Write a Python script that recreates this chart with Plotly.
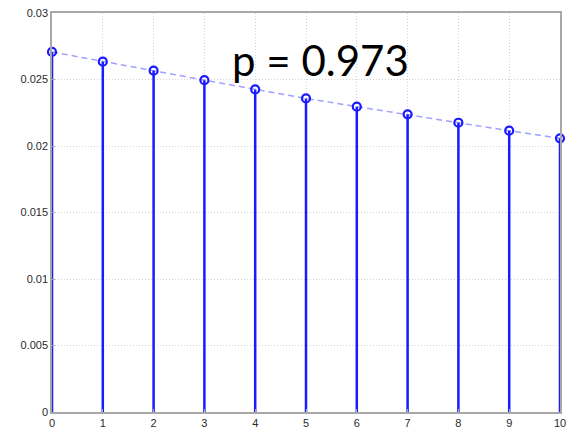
import plotly.graph_objects as go

k_values = [0, 1, 2, 3, 4, 5, 6, 7, 8, 9, 10]
probabilities = [0.02707, 0.02634, 0.02566, 0.02495, 0.02425, 0.02358, 0.02296,
                 0.02238, 0.02175, 0.02115, 0.02058]
y_ticks = [0, 0.005, 0.01, 0.015, 0.02, 0.025, 0.03]
y_tick_labels = ["0", "0.005", "0.01", "0.015", "0.02", "0.025", "0.03"]
x_ticks = list(range(0, 11))
title_text = "p = 0.973"

stem_x, stem_y = [], []
for k, p in zip(k_values, probabilities):
    stem_x += [k, k, None]
    stem_y += [0, p, None]

fig = go.Figure()
fig.add_trace(go.Scatter(x=k_values, y=probabilities, mode="lines",
                         line=dict(color="rgba(120,120,255,0.7)", width=1.5, dash="6px,4px"),
                         cliponaxis=False, hoverinfo="skip", showlegend=False))
fig.add_trace(go.Scatter(x=stem_x, y=stem_y, mode="lines",
                         line=dict(color="#1a1aff", width=2.5),
                         cliponaxis=False, showlegend=False))
fig.add_trace(go.Scatter(x=k_values, y=probabilities, mode="markers",
                         marker=dict(symbol="circle-open", size=8, color="#1a1aff",
                                     line=dict(width=2.2, color="#1a1aff")),
                         cliponaxis=False, showlegend=False))

axis_common = dict(showline=True, linecolor="#a8a8a8", linewidth=1.5, mirror=True,
                   showgrid=True, gridcolor="#d4d4d4", griddash="1px,2px", gridwidth=1,
                   zeroline=False, ticks="inside", ticklen=3, tickcolor="#a8a8a8",
                   automargin=False,
                   tickfont=dict(family="Liberation Sans, Arial, sans-serif", size=11, color="#2a2a2a"))

fig.update_xaxes(range=[0, 10], tickvals=x_ticks, ticktext=[str(t) for t in x_ticks], **axis_common)
fig.update_yaxes(range=[0, 0.03], tickvals=y_ticks, ticktext=y_tick_labels, **axis_common)

fig.add_annotation(text=title_text, xref="paper", yref="paper",
                   x=(320 - 52) / 508, y=(412 - 60) / 399, xanchor="center", yanchor="middle",
                   showarrow=False,
                   font=dict(family="Lato, Liberation Sans, sans-serif", size=42, color="#000000"))

fig.update_layout(width=575, height=428, margin=dict(l=52, r=15, t=13, b=16),
                  paper_bgcolor="white", plot_bgcolor="white")

fig.write_html("out.html")
